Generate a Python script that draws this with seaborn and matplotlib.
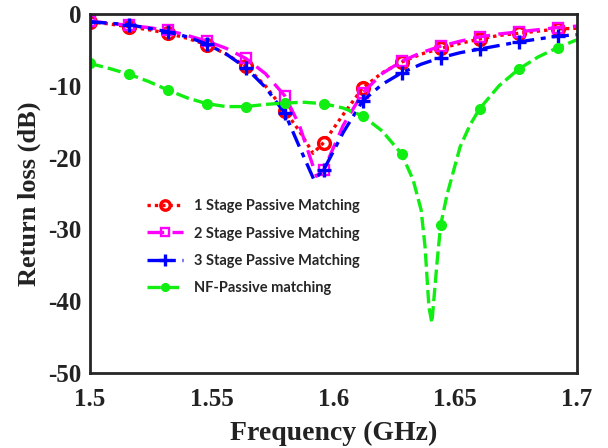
import numpy as np
import pandas as pd
import seaborn as sns
import matplotlib
matplotlib.use("Agg")
import matplotlib.pyplot as plt

# ---------------- data ----------------
freq_1 = [1.5, 1.508, 1.516, 1.524, 1.532, 1.54, 1.548, 1.556, 1.564, 1.572, 1.58, 1.586,
          1.5916, 1.596, 1.604, 1.612, 1.62, 1.628, 1.636, 1.644, 1.652, 1.66, 1.668,
          1.676, 1.684, 1.692, 1.7]
rl_1 = [-1.1, -1.4, -1.8, -2.2, -2.7, -3.4, -4.3, -5.6, -7.3, -10.0, -13.5, -16.3,
        -19.4, -17.9, -14.0, -10.3, -8.2, -6.7, -5.6, -4.8, -4.1, -3.5, -3.0,
        -2.7, -2.4, -2.1, -2.0]

freq_2 = [1.5, 1.508, 1.516, 1.524, 1.532, 1.54, 1.548, 1.556, 1.564, 1.572, 1.58, 1.586,
          1.593, 1.596, 1.604, 1.612, 1.62, 1.628, 1.636, 1.644, 1.652, 1.66, 1.668,
          1.676, 1.684, 1.692, 1.7]
rl_2 = [-1.0, -1.3, -1.6, -1.9, -2.3, -3.0, -3.8, -4.8, -6.2, -8.3, -11.4, -15.5,
        -22.6, -21.7, -15.5, -11.0, -8.3, -6.6, -5.4, -4.5, -3.8, -3.2, -2.8,
        -2.5, -2.2, -1.9, -1.7]

freq_3 = [1.5, 1.508, 1.516, 1.524, 1.532, 1.54, 1.548, 1.556, 1.564, 1.572, 1.58, 1.586,
          1.592, 1.596, 1.604, 1.612, 1.62, 1.628, 1.636, 1.644, 1.652, 1.66, 1.668,
          1.676, 1.684, 1.692, 1.7]
rl_3 = [-1.1, -1.3, -1.5, -2.0, -2.5, -3.2, -4.2, -5.6, -7.5, -10.2, -13.8, -18.5,
        -23.1, -21.7, -16.5, -12.1, -9.8, -8.2, -7.0, -6.1, -5.4, -4.9, -4.4,
        -3.9, -3.5, -3.1, -2.9]

freq_4 = [1.5, 1.508, 1.516, 1.524, 1.532, 1.54, 1.548, 1.556, 1.564, 1.572, 1.58, 1.588,
          1.596, 1.604, 1.612, 1.62, 1.628, 1.6327, 1.636, 1.6376, 1.6392, 1.6404,
          1.6425, 1.644, 1.6466, 1.652, 1.656, 1.66, 1.668, 1.676, 1.684, 1.692, 1.7]
rl_4 = [-6.9, -7.6, -8.4, -9.4, -10.6, -11.7, -12.5, -12.9, -12.9, -12.6, -12.4, -12.3,
        -12.5, -13.1, -14.2, -16.3, -19.5, -23.1, -27.3, -32.4, -40.8, -43.0,
        -34.7, -29.4, -25.2, -18.5, -15.5, -13.2, -10.0, -7.7, -6.0, -4.7, -3.6]

marker_freqs = [1.5, 1.516, 1.532, 1.548, 1.564, 1.58, 1.596, 1.612, 1.628, 1.644,
                1.66, 1.676, 1.692]

labels = ["1 Stage Passive Matching", "2 Stage Passive Matching",
          "3 Stage Passive Matching", "NF-Passive matching"]
x_ticks = [1.5, 1.55, 1.6, 1.65, 1.7]
x_tick_labels = ["1.5", "1.55", "1.6", "1.65", "1.7"]
y_ticks = [0, -10, -20, -30, -40, -50]
y_tick_labels = ["0", "-10", "-20", "-30", "-40", "-50"]

# ---------------- plotting ----------------
sns.set_style("white")
plt.rcParams["font.family"] = ["Liberation Serif", "DejaVu Serif"]
plt.rcParams["axes.unicode_minus"] = False

fig = plt.figure(figsize=(6.08, 4.48), dpi=100)
ax = fig.add_axes([0.148, 0.167, 0.801, 0.802])

def mk_idx(fr):
    return [i for i, f in enumerate(fr) if np.any(np.isclose(f, marker_freqs))]

series = [
    (freq_1, rl_1, labels[0], "#FF0000",
     dict(linestyle=(0, (1, 1.2)), marker="o", markersize=8.5,
          markerfacecolor="none", markeredgewidth=2.4)),
    (freq_2, rl_2, labels[1], "#FF00FF",
     dict(linestyle=(0, (5, 2.5)), marker="s", markersize=7,
          markerfacecolor="none", markeredgewidth=1.7)),
    (freq_3, rl_3, labels[2], "#0000FF",
     dict(linestyle=(0, (5, 2, 1.5, 2)), marker="+", markersize=10,
          markeredgewidth=2.4)),
    (freq_4, rl_4, labels[3], "#11EE11",
     dict(linestyle=(0, (4, 1.5)), marker="o", markersize=7,
          markeredgewidth=1)),
]

for fr, rl, lab, col, style in series:
    df = pd.DataFrame({"f": fr, "rl": rl})
    sns.lineplot(data=df, x="f", y="rl", ax=ax, label=lab, linewidth=2.4,
                 color=col, markeredgecolor=col,
                 markevery=mk_idx(fr), sort=False, estimator=None, **style)

ax.set_xlim(1.5, 1.7)
ax.set_ylim(-50, 0)
ax.set_xticks(x_ticks)
ax.set_xticklabels(x_tick_labels)
ax.set_yticks(y_ticks)
ax.set_yticklabels(y_tick_labels)

for s in ax.spines.values():
    s.set_linewidth(2)
    s.set_color("#262626")

ax.tick_params(axis="both", direction="in", length=5, width=1.5, colors="#262626",
               labelsize=18, top=False, right=False)
ax.tick_params(axis="x", pad=11)
ax.tick_params(axis="y", pad=6)
for t in ax.get_xticklabels() + ax.get_yticklabels():
    t.set_fontweight("bold")
    t.set_color("#222222")

ax.set_xlabel("Frequency (GHz)", fontsize=20, fontweight="bold", color="#222222", labelpad=7)
ax.set_ylabel("Return loss (dB)", fontsize=19, fontweight="bold", color="#222222", labelpad=5)

leg = ax.legend(loc="upper left", bbox_to_anchor=(0.09, 0.52), frameon=False,
                prop={"family": ["Lato", "DejaVu Sans"], "weight": "bold", "size": 10.5},
                handlelength=2.5, handletextpad=0.7, labelspacing=0.9)
for h in leg.legend_handles:
    h.set_markersize(h.get_markersize() * 0.8)

fig.savefig("out.png", dpi=100)
